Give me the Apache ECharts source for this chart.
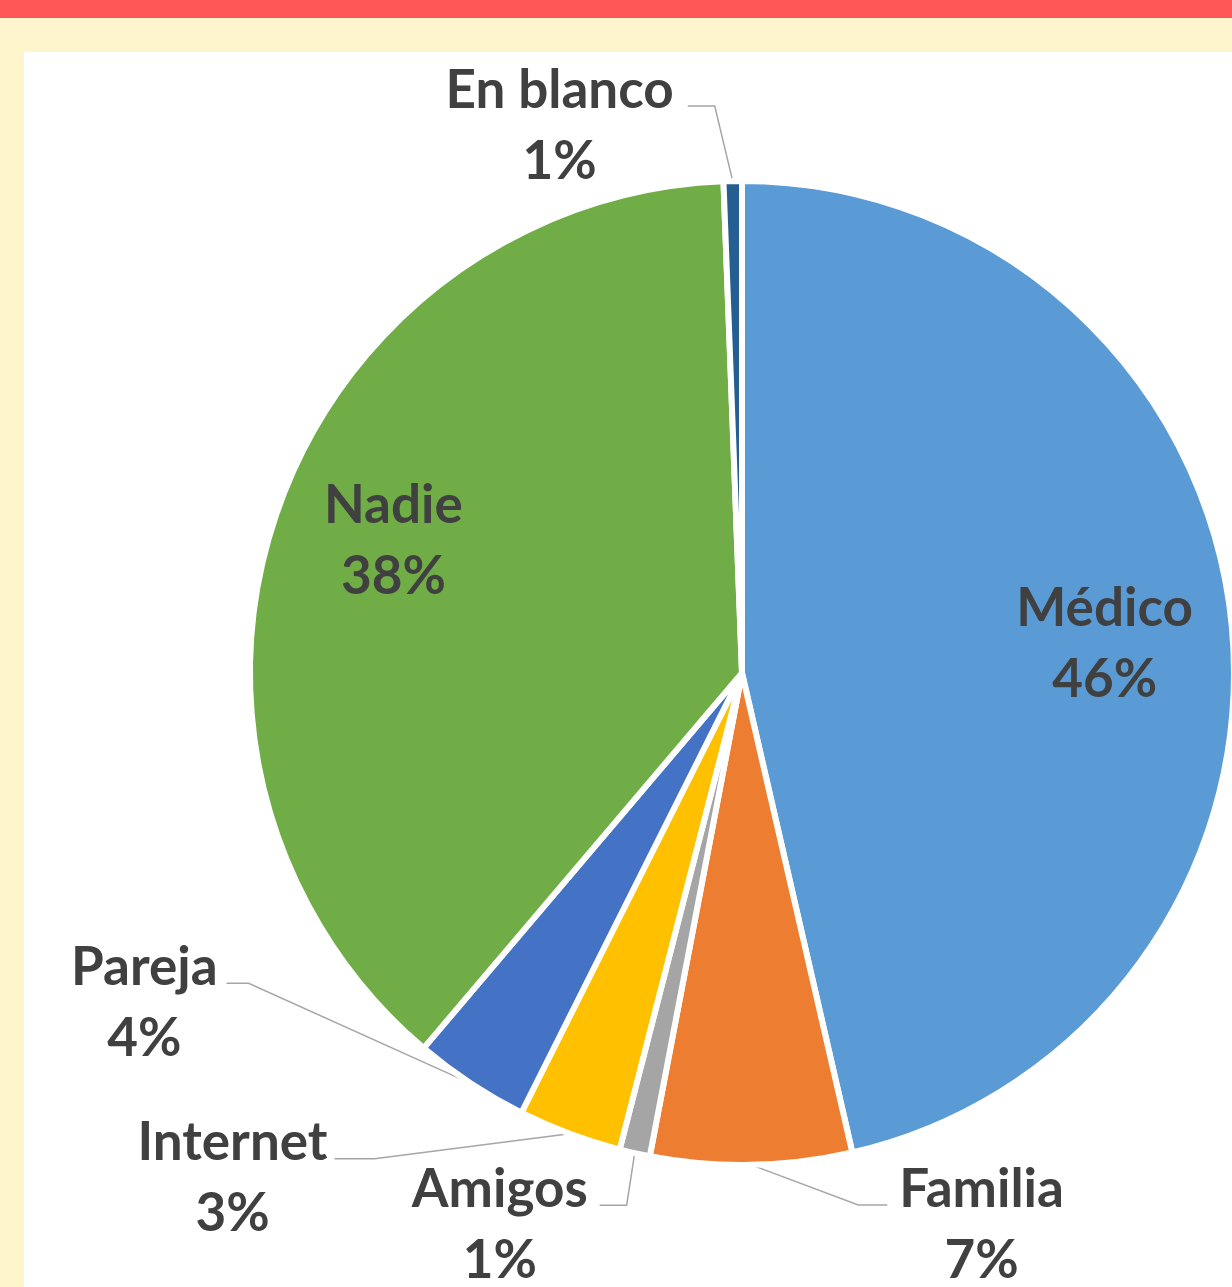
<!DOCTYPE html>
<html>
<head>
<meta charset="UTF-8">
<title>Pie</title>
<script type="text/javascript" src="https://cdn.jsdelivr.net/npm/echarts@6/dist/echarts.min.js"></script>
<style>
	body { margin: 0; background: #FFF5CC; width: 1232px; height: 1287px; overflow: hidden; position: relative; }
	#topbar { position: absolute; left: 0; top: 0; width: 1232px; height: 18px; background: #FF5757; }
	#chartmain { position: absolute; left: 24px; top: 52px; width: 1208px; height: 1235px; background: #fff; }
</style>
</head>

<body>
	<div id="topbar"></div>
	<div id="chartmain"></div>
</body>
<script type="text/javascript">
	// datos
	var categories = ['Médico', 'Familia', 'Amigos', 'Internet', 'Pareja', 'Nadie', 'En blanco'];
	var shares = [46.4, 6.6, 1.0, 3.4, 3.8, 38.2, 0.6];
	var insideNames = ['Médico', 'Nadie'];

	var palette = ['#5B9BD5', '#ED7D31', '#A5A5A5', '#FFC000', '#4472C4', '#70AD47', '#255E91'];

	// codo de la linea guia: desplazamiento desde el borde, largo del tramo horizontal, separacion del texto
	var guides = {
		'Familia':   { d: [107, 40],   len2: 29, gap: 12 },
		'Amigos':    { d: [-8, 52],    len2: 27, gap: 12 },
		'Internet':  { d: [-195, 25],  len2: 40, gap: 7 },
		'Pareja':    { d: [-222, -100], len2: 22, gap: 9 },
		'En blanco': { d: [-18, -75],  len2: 27, gap: 14 }
	};
	// pequeño ajuste de las etiquetas interiores
	var insideShift = { 'Médico': [-6, 13], 'Nadie': [2, -10] };

	var textStyle = { fontFamily: 'Lato', fontWeight: 'bold', fontSize: 53, color: '#404040', lineHeight: 71, align: 'center' };
	var rich = { n: textStyle, p: textStyle };

	var mainData = categories.map(function (name, i) {
		var inside = insideNames.indexOf(name) >= 0;
		return {
			name: name,
			value: shares[i],
			itemStyle: { color: palette[i] },
			label: { show: !inside },
			labelLine: { show: !inside }
		};
	});
	var overlayData = categories.map(function (name, i) {
		return {
			name: name,
			value: shares[i],
			label: { show: insideNames.indexOf(name) >= 0 }
		};
	});

	var myChart = echarts.init(document.getElementById('chartmain'));
	myChart.setOption({
		animation: false,
		series: [{
			type: 'pie',
			center: [718, 621],
			radius: [0, 492],
			percentPrecision: 0,
			avoidLabelOverlap: false,
			silent: true,
			itemStyle: { borderColor: '#fff', borderWidth: 6 },
			label: {
				position: 'outside',
				formatter: '{n|{b}}\n{p|{d}%}',
				rich: rich
			},
			labelLine: { length: 20, length2: 20, smooth: false, lineStyle: { color: '#A6A6A6', width: 1.5 } },
			labelLayout: function (params) {
				var name = categories[params.dataIndex];
				var g = guides[name];
				if (!g || !params.labelLinePoints) return {};
				var p0 = params.labelLinePoints[0];
				var side = g.d[0] >= 0 ? 1 : -1;
				var p1 = [p0[0] + g.d[0], p0[1] + g.d[1]];
				var p2 = [p1[0] + side * g.len2, p1[1]];
				return {
					x: p2[0] + side * g.gap,
					y: p2[1] - 51,
					align: side > 0 ? 'left' : 'right',
					verticalAlign: 'top',
					labelLinePoints: [p0, p1, p2]
				};
			},
			data: mainData
		}, {
			// capa invisible solo para las etiquetas interiores
			type: 'pie',
			center: [718, 621],
			radius: [0, 736],
			percentPrecision: 0,
			silent: true,
			z: 5,
			itemStyle: { color: 'rgba(0,0,0,0)' },
			label: {
				position: 'inside',
				formatter: '{n|{b}}\n{p|{d}%}',
				rich: rich
			},
			labelLine: { show: false },
			labelLayout: function (params) {
				var s = insideShift[categories[params.dataIndex]];
				return s ? { dx: s[0], dy: s[1] } : {};
			},
			emphasis: { disabled: true },
			data: overlayData
		}]
	});
</script>
</html>
